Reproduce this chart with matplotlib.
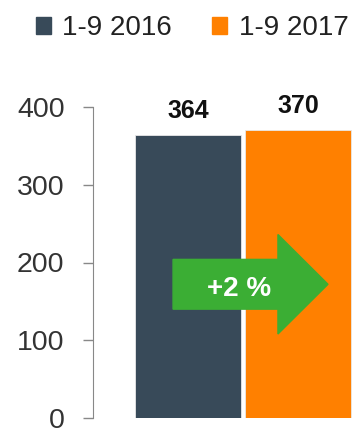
import matplotlib.pyplot as plt
from matplotlib.patches import Patch, FancyArrow

plt.rcParams['font.family'] = ['Liberation Sans', 'DejaVu Sans']

# sales, Jan-Sep
periods = ["1-9 2016", "1-9 2017"]
values = [364, 370]
colors = ["#384a59", "#ff8000"]
change_label = "+2 %"

fig = plt.figure(figsize=(3.59, 4.32), dpi=100)
ax = fig.add_axes([93 / 359, 14 / 432, 266 / 359, 311 / 432])

x = [0, 1]
ax.bar(x, values, width=0.965, color=colors, edgecolor="#e8e8e8", linewidth=0.6)

for xi, v in zip(x, values):
    ax.text(xi, v + 31, str(v), ha="center", va="center",
            fontsize=18, fontweight="bold", color="#111111")

# growth arrow across the bars
arrow = FancyArrow(-0.136, 172, 1.409, 0, width=64, head_width=128,
                   head_length=0.455, length_includes_head=True,
                   color="#3bae34", zorder=3)
ax.add_patch(arrow)
ax.text(0.46, 166, change_label, ha="center", va="center", fontsize=20,
        fontweight="bold", color="white", zorder=4)

ax.set_xlim(-0.864, 1.555)
ax.set_ylim(0, 400)
ax.set_yticks([0, 100, 200, 300, 400])
ax.set_xticks([])
ax.tick_params(axis="y", direction="out", length=7.5, width=1, color="#888888",
               labelsize=20.5, labelcolor="#333333", pad=13)
for s in ["top", "right", "bottom"]:
    ax.spines[s].set_visible(False)
ax.spines["left"].set_color("#888888")
ax.patch.set_alpha(0)

handles = [Patch(color=c) for c in colors]
fig.legend(handles, periods, loc="center", bbox_to_anchor=(0.535, 1 - 28 / 432),
           ncol=2, frameon=False, fontsize=20, handlelength=0.55,
           handleheight=0.55, handletextpad=0.4, columnspacing=1.45,
           labelcolor="#222222")

fig.savefig("out.png", dpi=100)
